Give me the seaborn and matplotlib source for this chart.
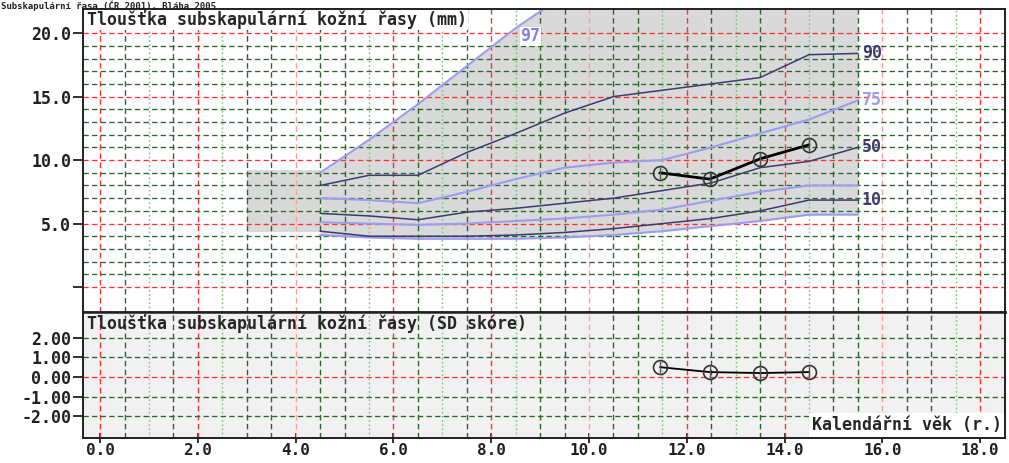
import numpy as np
import pandas as pd
import matplotlib
matplotlib.use("Agg")
import matplotlib.pyplot as plt
import seaborn as sns

# Reference percentiles of subscapular skinfold thickness (mm) by age (years)
ages = [4.5, 5.5, 6.5, 7.5, 8.5, 9.5, 10.5, 11.5, 12.5, 13.5, 14.5, 15.5]
p3 = [4.1, 3.9, 3.8, 3.8, 3.8, 3.9, 4.1, 4.4, 4.8, 5.2, 5.7, 5.7]
p10 = [4.4, 4.0, 4.0, 4.0, 4.1, 4.3, 4.6, 5.0, 5.4, 6.0, 6.85, 6.85]
p25 = [5.1, 5.0, 4.9, 5.0, 5.2, 5.4, 5.7, 6.1, 6.8, 7.5, 8.0, 8.0]
p50 = [5.8, 5.6, 5.3, 5.9, 6.2, 6.6, 7.0, 7.6, 8.2, 9.4, 9.9, 11.0]
p75 = [7.0, 6.85, 6.6, 7.5, 8.5, 9.4, 9.8, 10.0, 11.0, 12.1, 13.2, 14.7]
p90 = [8.0, 8.8, 8.8, 10.6, 12.1, 13.7, 15.0, 15.5, 16.0, 16.5, 18.3, 18.4]
p97 = [9.0, 11.6, 14.4, 17.4, 20.4, 23.0, 25.0, 26.5, 27.5, 28.5, 29.5, 30.0]

# Reference range for the youngest ages (3-4.5 years)
early_age = [3.0, 4.5]
early_low = [4.3, 4.3]
early_high = [9.2, 9.2]

# Measurements of the child
visit_age = [11.45, 12.47, 13.5, 14.5]
skinfold_mm = [9.0, 8.5, 10.1, 11.2]
sd_score = [0.5, 0.25, 0.2, 0.25]

x_ticks = [0, 2, 4, 6, 8, 10, 12, 14, 16, 18]
y_ticks_mm = [0, 5, 10, 15, 20]
y_ticks_sd = [2, 1, 0, -1, -2]

sns.set_style("white")
plt.rcParams["font.family"] = ["DejaVu Sans Mono", "DejaVu Sans"]
plt.rcParams["font.weight"] = "bold"

RED = "#ff3030"
LIGHT_RED = "#ff9c9c"
DARK_GREEN = "#2a662a"
LIGHT_GREEN = "#7cc07c"
DARK_CURVE = "#3b3b6e"
LIGHT_CURVE = "#9c9cf0"
BAND = "#d9d9d9"
FS = 12
DASH = (0, (4, 2.5))

fig = plt.figure(figsize=(10.09, 4.63), dpi=100)
ax1 = fig.add_axes([0.0823, 0.326, 0.9138, 0.6546])
ax2 = fig.add_axes([0.0823, 0.054, 0.9138, 0.272], sharex=ax1)

xmin, xmax = -0.35, 18.51
ax1.set_xlim(xmin, xmax)
ax1.set_ylim(-1.97, 21.9)
ax2.set_ylim(-3.1, 3.3)
ax1.set_facecolor("white")
ax2.set_facecolor("#f1f1f1")

# Vertical grid: red every 2 years, green every half year, light lines every 1.5 years from 1
half_years = np.arange(0, 18.01, 0.5)
for ax in (ax1, ax2):
    for xv in half_years:
        light = abs(((xv - 1.0) / 1.5) - round((xv - 1.0) / 1.5)) < 1e-6
        if abs(xv % 2) < 1e-6:
            col, ls = (LIGHT_RED if light else RED), DASH
        elif light:
            col, ls = LIGHT_GREEN, (0, (1.2, 1.8))
        else:
            col, ls = DARK_GREEN, DASH
        ax.axvline(xv, color=col, lw=1.0, ls=ls, zorder=1)

# Horizontal grid, upper panel
for yv in range(0, 21):
    col = RED if yv % 5 == 0 else DARK_GREEN
    ax1.axhline(yv, color=col, lw=0.95, ls=DASH, zorder=1)
# Horizontal grid, lower panel
for yv in y_ticks_sd:
    col = RED if yv == 0 else DARK_GREEN
    ax2.axhline(yv, color=col, lw=0.95, ls=DASH, zorder=1)

# Shaded reference band (P3-P97)
ax1.fill_between(early_age, early_low, early_high, color=BAND, lw=0, zorder=0)
ax1.fill_between(ages, p3, p97, color=BAND, lw=0, zorder=0)

# Percentile curves
curves = pd.DataFrame({"age": ages, "3": p3, "10": p10, "25": p25, "50": p50,
                       "75": p75, "90": p90, "97": p97})
long = curves.melt(id_vars="age", var_name="pct", value_name="mm")
palette = {"3": LIGHT_CURVE, "10": DARK_CURVE, "25": LIGHT_CURVE, "50": DARK_CURVE,
           "75": LIGHT_CURVE, "90": DARK_CURVE, "97": LIGHT_CURVE}
sizes = {"3": 1.5, "10": 1.1, "25": 1.5, "50": 1.1, "75": 1.5, "90": 1.1, "97": 1.5}
sns.lineplot(data=long, x="age", y="mm", hue="pct", size="pct", palette=palette,
             sizes=sizes, estimator=None, sort=False, legend=False, ax=ax1, zorder=3)

# Percentile labels at curve ends
for key, vals, col in [("90", p90, DARK_CURVE), ("75", p75, LIGHT_CURVE),
                       ("50", p50, DARK_CURVE), ("10", p10, DARK_CURVE)]:
    ax1.text(ages[-1] + 0.08, vals[-1], key, color=col, fontsize=FS,
             ha="left", va="center", zorder=6)
ax1.text(8.6, 19.75, "97", color="#8080f0", fontsize=FS, ha="left", va="center",
         zorder=6, bbox=dict(fc="white", ec="none", pad=0.5))

# Child's measurements
sns.lineplot(x=visit_age, y=skinfold_mm, color="black", lw=2.0, marker="o",
             markersize=10, markerfacecolor="none", markeredgecolor="#333333",
             markeredgewidth=1.2, ax=ax1, zorder=5)
ax1.plot(visit_age, skinfold_mm, ls="none", marker="|", ms=9, color="#555555", zorder=5)
sns.lineplot(x=visit_age, y=sd_score, color="black", lw=1.3, marker="o",
             markersize=10, markerfacecolor="none", markeredgecolor="#333333",
             markeredgewidth=1.2, ax=ax2, zorder=5)
ax2.plot(visit_age, sd_score, ls="none", marker="|", ms=9, color="#555555", zorder=5)

# Panel titles and axis caption
ax1.text(0.004, 0.997, "Tloušťka subskapulární kožní řasy (mm)", transform=ax1.transAxes,
         fontsize=FS, ha="left", va="top", zorder=10,
         bbox=dict(fc="white", ec="none", pad=1.0))
ax2.text(0.004, 0.985, "Tloušťka subskapulární kožní řasy (SD skóre)", transform=ax2.transAxes,
         fontsize=FS, ha="left", va="top", zorder=10)
ax2.text(0.997, 0.03, "Kalendářní věk (r.)", transform=ax2.transAxes,
         fontsize=FS, ha="right", va="bottom", zorder=10,
         bbox=dict(fc="white", ec="none", pad=2.0))
# Source line in the strip above the frame
fig.text(0.001, 0.9995, "Subskapulární řasa (ČR 2001), Bláha 2005", fontsize=6.5,
         ha="left", va="top", color="#202020")

# Ticks
ax1.set_yticks(y_ticks_mm)
ax1.set_yticklabels(["" if v == 0 else f"{v:.1f}" for v in y_ticks_mm])
ax2.set_yticks(y_ticks_sd)
ax2.set_yticklabels([f"{v:.2f}" for v in y_ticks_sd])
ax2.set_xticks(x_ticks)
ax2.set_xticklabels([f"{v:.1f}" for v in x_ticks])
ax1.tick_params(axis="x", bottom=False, labelbottom=False)
for ax in (ax1, ax2):
    ax.tick_params(axis="y", left=True, direction="out", length=7.5, width=1.3,
                   color="#202020", labelsize=FS, pad=1, labelcolor="#202020")
ax2.tick_params(axis="x", bottom=True, direction="inout", length=7, width=1.3,
                color="#202020", labelsize=11.5, pad=0, labelcolor="#202020")
ax1.set_xlabel("")
ax1.set_ylabel("")
ax2.set_xlabel("")
ax2.set_ylabel("")

# Frame
for ax in (ax1, ax2):
    for side in ("left", "right", "top", "bottom"):
        ax.spines[side].set_visible(True)
        ax.spines[side].set_color("#202020")
        ax.spines[side].set_linewidth(1.4)
        ax.spines[side].set_zorder(12)
ax1.spines["bottom"].set_linewidth(1.8)
ax2.spines["top"].set_linewidth(1.8)

fig.savefig("out.png", dpi=100)
